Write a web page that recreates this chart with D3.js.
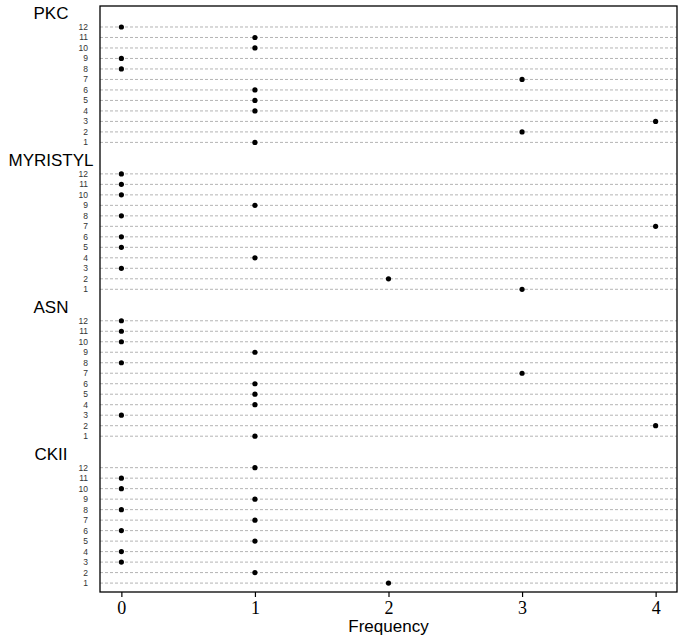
<!DOCTYPE html>
<html>
<head>
<meta charset="utf-8">
<script src="https://cdn.jsdelivr.net/npm/d3@7"></script>
<style>
  html, body { margin: 0; padding: 0; background: #fff; }
  svg { display: block; }
</style>
</head>
<body>
<svg id="chart" width="685" height="640"></svg>
<script>
// ---- data ----
const groups = ["PKC", "MYRISTYL", "ASN", "CKII"];           // top to bottom
const rowLabels = [12, 11, 10, 9, 8, 7, 6, 5, 4, 3, 2, 1];    // top to bottom within group
const pkc      = [0, 1, 1, 0, 0, 3, 1, 1, 1, 4, 3, 1];
const myristyl = [0, 0, 0, 1, 0, 4, 0, 0, 1, 0, 2, 3];
const asn      = [0, 0, 0, 1, 0, 3, 1, 1, 1, 0, 4, 1];
const ckii     = [1, 0, 0, 1, 0, 1, 0, 1, 0, 0, 1, 2];
const xTicks = [0, 1, 2, 3, 4];
const xTitle = "Frequency";

const seriesByGroup = { PKC: pkc, MYRISTYL: myristyl, ASN: asn, CKII: ckii };

(function () {
  // ---- layout (dotchart style positions) ----
  const nRows = rowLabels.length;
  const rows = [];
  const glabels = [];
  groups.slice().reverse().forEach((g, gi) => {
    const base = gi * (nRows + 2);
    rowLabels.forEach((lab, i) => {
      rows.push({ group: g, label: lab, value: seriesByGroup[g][i], pos: base + lab });
    });
    glabels.push({ group: g, pos: base + nRows + 1 });
  });

  const svg = d3.select("#chart");
  const pLeft = 100, pRight = 677, pTop = 6, pBottom = 592;

  const x = d3.scaleLinear().domain([-0.16, 4.16]).range([pLeft, pRight]);
  const y = d3.scaleLinear().domain([0.15, 56]).range([pBottom, pTop]);

  // dotted guide lines
  svg.append("g").selectAll("line").data(rows).join("line")
    .attr("x1", pLeft).attr("x2", pRight)
    .attr("y1", d => y(d.pos)).attr("y2", d => y(d.pos))
    .attr("stroke", "#b4b4b4").attr("stroke-width", 1)
    .attr("stroke-dasharray", "3,2");

  // row labels
  svg.append("g").selectAll("text").data(rows).join("text")
    .attr("x", 88).attr("y", d => y(d.pos))
    .attr("dy", "0.35em")
    .attr("text-anchor", "end")
    .attr("font-family", "Liberation Sans, Arial, sans-serif")
    .attr("font-size", 8.5)
    .attr("fill", "#333")
    .text(d => d.label);

  // group labels
  svg.append("g").selectAll("text").data(glabels).join("text")
    .attr("x", 51).attr("y", d => y(d.pos))
    .attr("dy", "0.15em")
    .attr("text-anchor", "middle")
    .attr("font-family", "Liberation Sans, Arial, sans-serif")
    .attr("font-size", 17)
    .attr("fill", "#000")
    .text(d => d.group);

  // points
  svg.append("g").selectAll("circle").data(rows).join("circle")
    .attr("cx", d => x(d.value)).attr("cy", d => y(d.pos))
    .attr("r", 2.6).attr("fill", "#000");

  // frame
  svg.append("rect")
    .attr("x", pLeft).attr("y", pTop)
    .attr("width", pRight - pLeft).attr("height", pBottom - pTop)
    .attr("fill", "none").attr("stroke", "#000").attr("stroke-width", 1.3);

  // x axis
  const axis = svg.append("g")
    .attr("transform", `translate(0,${pBottom})`)
    .call(d3.axisBottom(x).tickValues(xTicks).tickFormat(d3.format("d")).tickSize(5).tickPadding(4));
  axis.select(".domain").remove();
  axis.selectAll(".tick line").attr("stroke", "#000").attr("stroke-width", 1.2);
  axis.selectAll(".tick text")
    .attr("font-family", "Liberation Serif, Times New Roman, serif")
    .attr("font-size", 18)
    .attr("fill", "#000");

  svg.append("text")
    .attr("x", (pLeft + pRight) / 2).attr("y", 632)
    .attr("text-anchor", "middle")
    .attr("font-family", "Liberation Sans, Arial, sans-serif")
    .attr("font-size", 17)
    .attr("fill", "#000")
    .text(xTitle);
})();
</script>
</body>
</html>
